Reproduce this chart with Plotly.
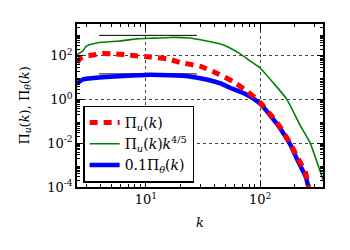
import plotly.graph_objects as go
import numpy as np

# Pi_u(k)
k_u = [2.5, 2.7, 3.0, 3.5, 4.2, 5.0, 6.5, 8.5, 11, 16, 20, 30, 40, 58, 78, 100, 127, 150, 183, 215, 250, 265, 290]
pi_u = [50, 80, 100, 110, 130, 125, 115, 100, 90, 70, 50, 33, 18, 6.6, 2.3, 0.73, 0.17, 0.055, 0.01, 0.002, 0.00044, 0.0001, 1.5e-5]

# Pi_u(k) k^{4/5}
k_c = [2.5, 2.82, 3.0, 3.8, 5.9, 8.3, 12, 16.2, 24, 34, 45, 54.5, 66, 78, 100, 130, 172, 220, 275, 336, 360]
pi_c = [115, 170, 275, 400, 480, 600, 650, 700, 660, 480, 350, 230, 130, 70, 28, 6, 1, 0.08, 0.01, 5e-4, 1.8e-4]

# 0.1 Pi_theta(k)
k_t = [2.5, 2.8, 3.2, 5.3, 10, 16, 24, 34, 45, 54.5, 76, 100, 127, 150, 183, 210, 250, 265, 290]
pi_t = [5.3, 8.3, 9.3, 11.5, 13.5, 13, 11.5, 8.3, 5.5, 3.5, 1.7, 0.65, 0.15, 0.048, 0.009, 0.0019, 0.0003, 0.0001, 2e-5]

# reference plateau lines
k_ref = [3.9, 28]
ref_hi = [870, 870]
ref_lo = [15, 15]

# tick labels
x_tickvals = [10, 100]
x_ticktext = ["10<sup>1</sup>", "10<sup>2</sup>"]
y_tickvals = [1e-4, 1e-2, 1, 100]
y_ticktext = ["10<sup>-4</sup>", "10<sup>-2</sup>", "10<sup>0</sup>", "10<sup>2</sup>"]
minor_x = [m * 10 ** e for e in range(0, 3) for m in range(2, 10)]
minor_y = [m * 10.0 ** e for e in range(-4, 4) for m in range(2, 10)]

font = "DejaVu Serif"

fig = go.Figure()
fig.add_trace(go.Scatter(x=k_ref, y=ref_hi, mode="lines", line=dict(color="black", width=1), showlegend=False))
fig.add_trace(go.Scatter(x=k_ref, y=ref_lo, mode="lines", line=dict(color="black", width=1), showlegend=False))
fig.add_trace(go.Scatter(x=k_c, y=pi_c, mode="lines", line=dict(color="green", width=1.6, shape="spline", smoothing=0.5),
                         name="Π<sub><i>u</i></sub>(<i>k</i>)<i>k</i><sup>4/5</sup>", legendrank=2))
fig.add_trace(go.Scatter(x=k_t, y=pi_t, mode="lines", line=dict(color="blue", width=4.5, shape="spline", smoothing=0.6),
                         name="0.1Π<sub><i>θ</i></sub>(<i>k</i>)", legendrank=3))
fig.add_trace(go.Scatter(x=k_u, y=pi_u, mode="lines", line=dict(color="red", width=5, dash="8px,6px", shape="spline", smoothing=0.6),
                         name="Π<sub><i>u</i></sub>(<i>k</i>)", legendrank=1))
# invisible trace to activate minor-tick overlay axes
fig.add_trace(go.Scatter(x=[3, 300], y=[1, 1], xaxis="x2", yaxis="y2", mode="lines",
                         line=dict(width=0), hoverinfo="skip", showlegend=False, opacity=0))

axis_common = dict(
    showline=True, linecolor="black", linewidth=1.5, mirror="allticks",
    ticks="inside", ticklen=6, tickcolor="black",
    showgrid=True, gridcolor="#444", griddash="dot", gridwidth=1,
    zeroline=False, automargin=False,
    tickfont=dict(family=font, size=13, color="black"),
)

fig.update_layout(
    xaxis=dict(type="log", range=[np.log10(2.5), np.log10(355)],
               tickmode="array", tickvals=x_tickvals, ticktext=x_ticktext,
               **axis_common),
    yaxis=dict(type="log", range=[-4, 3.46],
               tickmode="array", tickvals=y_tickvals, ticktext=y_ticktext,
               **axis_common),
    xaxis2=dict(type="log", range=[np.log10(2.5), np.log10(355)], overlaying="x", matches="x",
                tickmode="array", tickvals=minor_x, showticklabels=False, ticks="inside", ticklen=3,
                tickcolor="black", mirror="ticks", showgrid=False, zeroline=False, showline=False, automargin=False),
    yaxis2=dict(type="log", range=[-4, 3.46], overlaying="y", matches="y",
                tickmode="array", tickvals=minor_y, showticklabels=False, ticks="inside", ticklen=3,
                tickcolor="black", mirror="ticks", showgrid=False, zeroline=False, showline=False, automargin=False),
    width=342, height=242,
    margin=dict(l=69, r=27, t=16, b=63, autoexpand=False),
    plot_bgcolor="white", paper_bgcolor="white",
    font=dict(family=font, size=13, color="black"),
    legend=dict(x=0.025, y=0.50, xanchor="left", yanchor="top",
                bgcolor="white", bordercolor="black", borderwidth=1.5,
                font=dict(family=font, size=14), tracegroupgap=0, itemwidth=30),
    annotations=[
        dict(text="<i>k</i>", xref="paper", yref="paper", x=0.5, y=-0.215,
             xanchor="center", yanchor="middle", showarrow=False,
             font=dict(family=font, size=13, color="black")),
        dict(text="Π<sub><i>u</i></sub>(<i>k</i>), Π<sub><i>θ</i></sub>(<i>k</i>)",
             xref="paper", yref="paper", x=-0.211, y=0.5, textangle=-90,
             xanchor="center", yanchor="middle", showarrow=False,
             font=dict(family=font, size=13, color="black")),
    ],
)

fig.write_html("out.html")
